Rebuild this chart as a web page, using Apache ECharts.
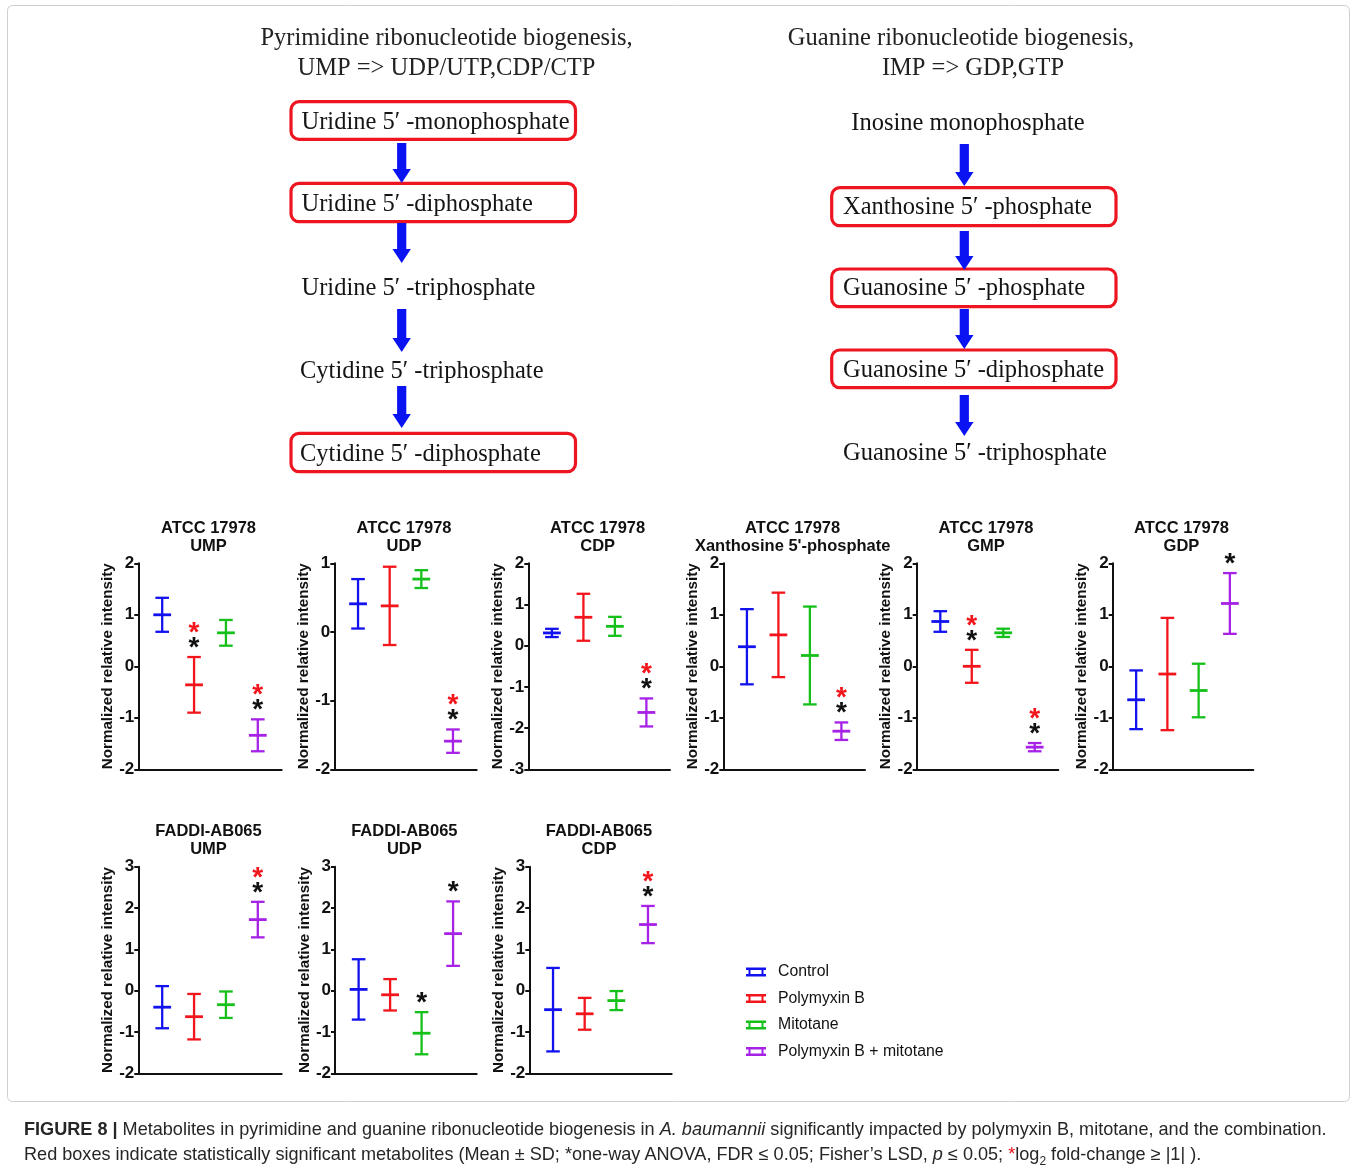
<!DOCTYPE html>
<html>
<head>
<meta charset="utf-8">
<script src="https://cdn.jsdelivr.net/npm/echarts@6/dist/echarts.min.js"></script>
<style>
html,body{margin:0;padding:0;background:#fff;}
#chart{position:absolute;left:0;top:0;width:1358px;height:1172px;}
#cap{position:absolute;left:24px;top:1117px;width:1330px;font-family:'Liberation Sans',Arial,sans-serif;font-size:18.1px;line-height:25px;color:#262626;white-space:nowrap;}
</style>
</head>
<body>
<div id="chart"></div>
<div id="cap"><b>FIGURE 8 |</b> Metabolites in pyrimidine and guanine ribonucleotide biogenesis in <i>A. baumannii</i> significantly impacted by polymyxin B, mitotane, and the combination.<br>Red boxes indicate statistically significant metabolites (Mean ± SD; *one-way ANOVA, FDR ≤ 0.05; Fisher’s LSD, <i>p</i> ≤ 0.05; <span style="color:#e8141c">*</span>log<sub style="font-size:12px">2</sub> fold-change ≥ |1| ).</div>
<script>
// ---------- DATA ----------
const groupNames = ['Control', 'Polymyxin B', 'Mitotane', 'Polymyxin B + mitotane'];
const groupX = [1, 2, 3, 4];

const panelStrain = ['ATCC 17978','ATCC 17978','ATCC 17978','ATCC 17978','ATCC 17978','ATCC 17978','FADDI-AB065','FADDI-AB065','FADDI-AB065'];
const panelMetabolite = ['UMP','UDP','CDP',"Xanthosine 5'-phosphate",'GMP','GDP','UMP','UDP','CDP'];
const panelYMin = [-2, -2, -3, -2, -2, -2, -2, -2, -2];
const panelYMax = [2, 1, 2, 2, 2, 2, 3, 3, 3];

// mean, SD, significance (0 none, 1 = ANOVA *, 2 = ANOVA * + fold-change *)
const atccUMP_mean = [1.00, -0.36, 0.65, -1.34];
const atccUMP_sd   = [0.33, 0.54, 0.25, 0.31];
const atccUMP_sig  = [0, 2, 0, 2];

const atccUDP_mean = [0.41, 0.38, 0.77, -1.59];
const atccUDP_sd   = [0.36, 0.57, 0.13, 0.17];
const atccUDP_sig  = [0, 0, 0, 2];

const atccCDP_mean = [0.31, 0.69, 0.47, -1.62];
const atccCDP_sd   = [0.10, 0.57, 0.23, 0.34];
const atccCDP_sig  = [0, 0, 0, 2];

const atccXMP_mean = [0.38, 0.61, 0.21, -1.26];
const atccXMP_sd   = [0.73, 0.82, 0.95, 0.17];
const atccXMP_sig  = [0, 0, 0, 2];

const atccGMP_mean = [0.87, 0.00, 0.65, -1.57];
const atccGMP_sd   = [0.20, 0.32, 0.08, 0.08];
const atccGMP_sig  = [0, 2, 0, 2];

const atccGDP_mean = [-0.65, -0.15, -0.47, 1.22];
const atccGDP_sd   = [0.57, 1.09, 0.52, 0.59];
const atccGDP_sig  = [0, 0, 0, 1];

const faddiUMP_mean = [-0.40, -0.63, -0.34, 1.72];
const faddiUMP_sd   = [0.51, 0.55, 0.32, 0.43];
const faddiUMP_sig  = [0, 0, 0, 2];

const faddiUDP_mean = [0.03, -0.10, -1.03, 1.38];
const faddiUDP_sd   = [0.73, 0.38, 0.51, 0.78];
const faddiUDP_sig  = [0, 0, 1, 1];

const faddiCDP_mean = [-0.46, -0.56, -0.24, 1.60];
const faddiCDP_sd   = [1.01, 0.385, 0.23, 0.45];
const faddiCDP_sig  = [0, 0, 0, 2];

const panelMeans = [atccUMP_mean, atccUDP_mean, atccCDP_mean, atccXMP_mean, atccGMP_mean, atccGDP_mean, faddiUMP_mean, faddiUDP_mean, faddiCDP_mean];
const panelSds   = [atccUMP_sd, atccUDP_sd, atccCDP_sd, atccXMP_sd, atccGMP_sd, atccGDP_sd, faddiUMP_sd, faddiUDP_sd, faddiCDP_sd];
const panelSigs  = [atccUMP_sig, atccUDP_sig, atccCDP_sig, atccXMP_sig, atccGMP_sig, atccGDP_sig, faddiUMP_sig, faddiUDP_sig, faddiCDP_sig];

// pathway diagram texts
const pyrTitle = ['Pyrimidine ribonucleotide biogenesis,', 'UMP => UDP/UTP,CDP/CTP'];
const pyrSteps = ['Uridine 5\u2032 -monophosphate', 'Uridine 5\u2032 -diphosphate', 'Uridine 5\u2032 -triphosphate', 'Cytidine 5\u2032 -triphosphate', 'Cytidine 5\u2032 -diphosphate'];
const pyrBoxed = [true, true, false, false, true];
const guaTitle = ['Guanine ribonucleotide biogenesis,', 'IMP => GDP,GTP'];
const guaSteps = ['Inosine monophosphate', 'Xanthosine 5\u2032 -phosphate', 'Guanosine 5\u2032 -phosphate', 'Guanosine 5\u2032 -diphosphate', 'Guanosine 5\u2032 -triphosphate'];
const guaBoxed = [false, true, true, true, false];

// ---------- STYLE / LAYOUT ----------
const groupColors = ['#1212ee', '#f2151b', '#16c01a', '#a622e6'];
const SANS = "'Liberation Sans', Arial, sans-serif";
const SERIF = "'Liberation Serif', 'Times New Roman', serif";
const gridL = [138.3, 334.3, 528.3, 723.3, 916.7, 1112.7, 138.3, 335, 529.3];
const gridR = [281.7, 476.7, 670, 865, 1058.3, 1253.3, 281.7, 476.7, 671.7];
const rowTop = [563.3, 866.7];
const rowH = [206, 206.6];

const chart = echarts.init(document.getElementById('chart'), null, {renderer: 'canvas'});

function txt(text, x, y, font, fill, align, valign) {
  return {type: 'text', silent: true, style: {text, x, y, font, fill,
    align: align || 'left', textAlign: align || 'left',
    verticalAlign: valign || 'middle', textVerticalAlign: valign || 'middle'}};
}

function renderErr(params, api) {
  const x = api.value(0), m = api.value(1), s = api.value(2), sig = api.value(3);
  const c = api.coord([x, m]);
  const t = api.coord([x, m + s]);
  const b = api.coord([x, m - s]);
  const color = api.visual('color');
  const lw = 2.3, mh = 8.9, ch = 6.8;
  const st = {stroke: color, lineWidth: lw};
  const kids = [
    {type: 'line', shape: {x1: c[0], y1: t[1], x2: c[0], y2: b[1]}, style: st},
    {type: 'line', shape: {x1: c[0] - ch, y1: t[1], x2: c[0] + ch, y2: t[1]}, style: st},
    {type: 'line', shape: {x1: c[0] - ch, y1: b[1], x2: c[0] + ch, y2: b[1]}, style: st},
    {type: 'line', shape: {x1: c[0] - mh, y1: c[1], x2: c[0] + mh, y2: c[1]}, style: {stroke: color, lineWidth: 2.8}}
  ];
  const fs = 28;
  const off = 0.24 * fs;
  if (sig >= 1) kids.push(txt('*', c[0], t[1] - 15.5 + off, 'bold ' + fs + 'px ' + SANS, '#111', 'center', 'middle'));
  if (sig >= 2) kids.push(txt('*', c[0], t[1] - 30.5 + off, 'bold ' + fs + 'px ' + SANS, '#f2151b', 'center', 'middle'));
  return {type: 'group', children: kids};
}

const grids = [], xAxes = [], yAxes = [], series = [], graphics = [];
for (let p = 0; p < 9; p++) {
  const row = p < 6 ? 0 : 1;
  grids.push({left: gridL[p], top: rowTop[row], width: gridR[p] - gridL[p], height: rowH[row], containLabel: false});
  xAxes.push({type: 'value', gridIndex: p, min: 0.25, max: 4.75, axisLine: {show: true, onZero: false, lineStyle: {color: '#111', width: 2}},
    axisTick: {show: false}, axisLabel: {show: false}, splitLine: {show: false}});
  yAxes.push({type: 'value', gridIndex: p, min: panelYMin[p], max: panelYMax[p], interval: 1,
    name: 'Normalized relative intensity', nameLocation: 'middle', nameGap: 19,
    nameTextStyle: {fontFamily: SANS, fontWeight: 'bold', fontSize: 15.2, color: '#111'},
    axisLine: {show: true, lineStyle: {color: '#111', width: 2}},
    axisTick: {show: true, length: 4, lineStyle: {color: '#111', width: 2}},
    axisLabel: {margin: 4, fontFamily: SANS, fontWeight: 'bold', fontSize: 17, color: '#111'},
    splitLine: {show: false}});
  for (let g = 0; g < 4; g++) {
    series.push({type: 'custom', name: groupNames[g], xAxisIndex: p, yAxisIndex: p, clip: false, silent: true,
      itemStyle: {color: groupColors[g]}, dimensions: ['x', 'mean', 'sd', 'sig'], encode: {x: 0, y: 1},
      renderItem: renderErr,
      data: [[groupX[g], panelMeans[p][g], panelSds[p][g], panelSigs[p][g]]]});
  }
  const cx = (gridL[p] + gridR[p]) / 2 - 1.5;
  const ty = row === 0 ? 528 : 831.5;
  graphics.push(txt(panelStrain[p], cx, ty, 'bold 16.5px ' + SANS, '#111', 'center'));
  graphics.push(txt(panelMetabolite[p], cx, ty + 18, 'bold 16.5px ' + SANS, '#111', 'center'));
}

// frame
graphics.push({type: 'rect', silent: true, shape: {x: 7.5, y: 5.5, width: 1342, height: 1096, r: 5}, style: {fill: 'none', stroke: '#cfcfcf', lineWidth: 1}});

// pathway diagrams
function arrow(cx, y0, y1) {
  return {type: 'polygon', silent: true, shape: {points: [[cx - 4.6, y0], [cx + 4.6, y0], [cx + 4.6, y1 - 14], [cx + 9.2, y1 - 14], [cx, y1], [cx - 9.2, y1 - 14], [cx - 4.6, y1 - 14]]},
    style: {fill: '#0a14f2'}};
}
const SFONT = '24.5px ' + SERIF;
graphics.push(txt(pyrTitle[0], 446.5, 39, SFONT, '#222', 'center'));
graphics.push(txt(pyrTitle[1], 446.5, 69, SFONT, '#222', 'center'));
graphics.push(txt(guaTitle[0], 961, 39, SFONT, '#222', 'center'));
graphics.push(txt(guaTitle[1], 973, 69, SFONT, '#222', 'center'));
const pyrY = [123, 205, 289, 372, 455];
const pyrBoxY = [[101.7, 139.3], [183.3, 221.7], null, null, [433.3, 471.7]];
const pyrArr = [[143, 183], [223, 263], [309, 352], [386, 428]];
for (let i = 0; i < 5; i++) {
  if (pyrBoxed[i]) graphics.push({type: 'rect', silent: true, shape: {x: 291, y: pyrBoxY[i][0], width: 284.5, height: pyrBoxY[i][1] - pyrBoxY[i][0], r: 8},
    style: {fill: 'none', stroke: '#ec1520', lineWidth: 3.2}});
  graphics.push(txt(pyrSteps[i], i >= 3 ? 300 : 301.5, pyrY[i], SFONT, '#141414', 'left'));
}
pyrArr.forEach(a => graphics.push(arrow(401.7, a[0], a[1])));
const guaY = [124, 207.5, 289, 371, 454];
const guaBoxY = [null, [187.7, 225.7], [269, 306.7], [350, 387.7], null];
const guaArr = [[144, 186], [231, 270], [309, 349], [395, 436]];
for (let i = 0; i < 5; i++) {
  if (guaBoxed[i]) graphics.push({type: 'rect', silent: true, shape: {x: 831.7, y: guaBoxY[i][0], width: 284.3, height: guaBoxY[i][1] - guaBoxY[i][0], r: 8},
    style: {fill: 'none', stroke: '#ec1520', lineWidth: 3.2}});
  if (i === 0) graphics.push(txt(guaSteps[i], 968, guaY[i], SFONT, '#141414', 'center'));
  else graphics.push(txt(guaSteps[i], 843, guaY[i], SFONT, '#141414', 'left'));
}
guaArr.forEach(a => graphics.push(arrow(964.3, a[0], a[1])));

chart.setOption({
  backgroundColor: '#ffffff',
  animation: false,
  grid: grids,
  xAxis: xAxes,
  yAxis: yAxes,
  series: series,
  legend: {
    orient: 'vertical', left: 741, top: 958.5, itemWidth: 20, itemHeight: 9, itemGap: 9.5, selectedMode: false,
    icon: 'path://M0,0H20V2.5H17.5V6.5H20V9H0V6.5H2.5V2.5H0Z M4.5,2.5V6.5H15.5V2.5Z',
    textStyle: {fontFamily: SANS, fontSize: 15.8, color: '#111', lineHeight: 17, padding: [0, 0, 0, 7]},
    data: groupNames
  },
  graphic: {elements: graphics}
});
</script>
</body>
</html>
